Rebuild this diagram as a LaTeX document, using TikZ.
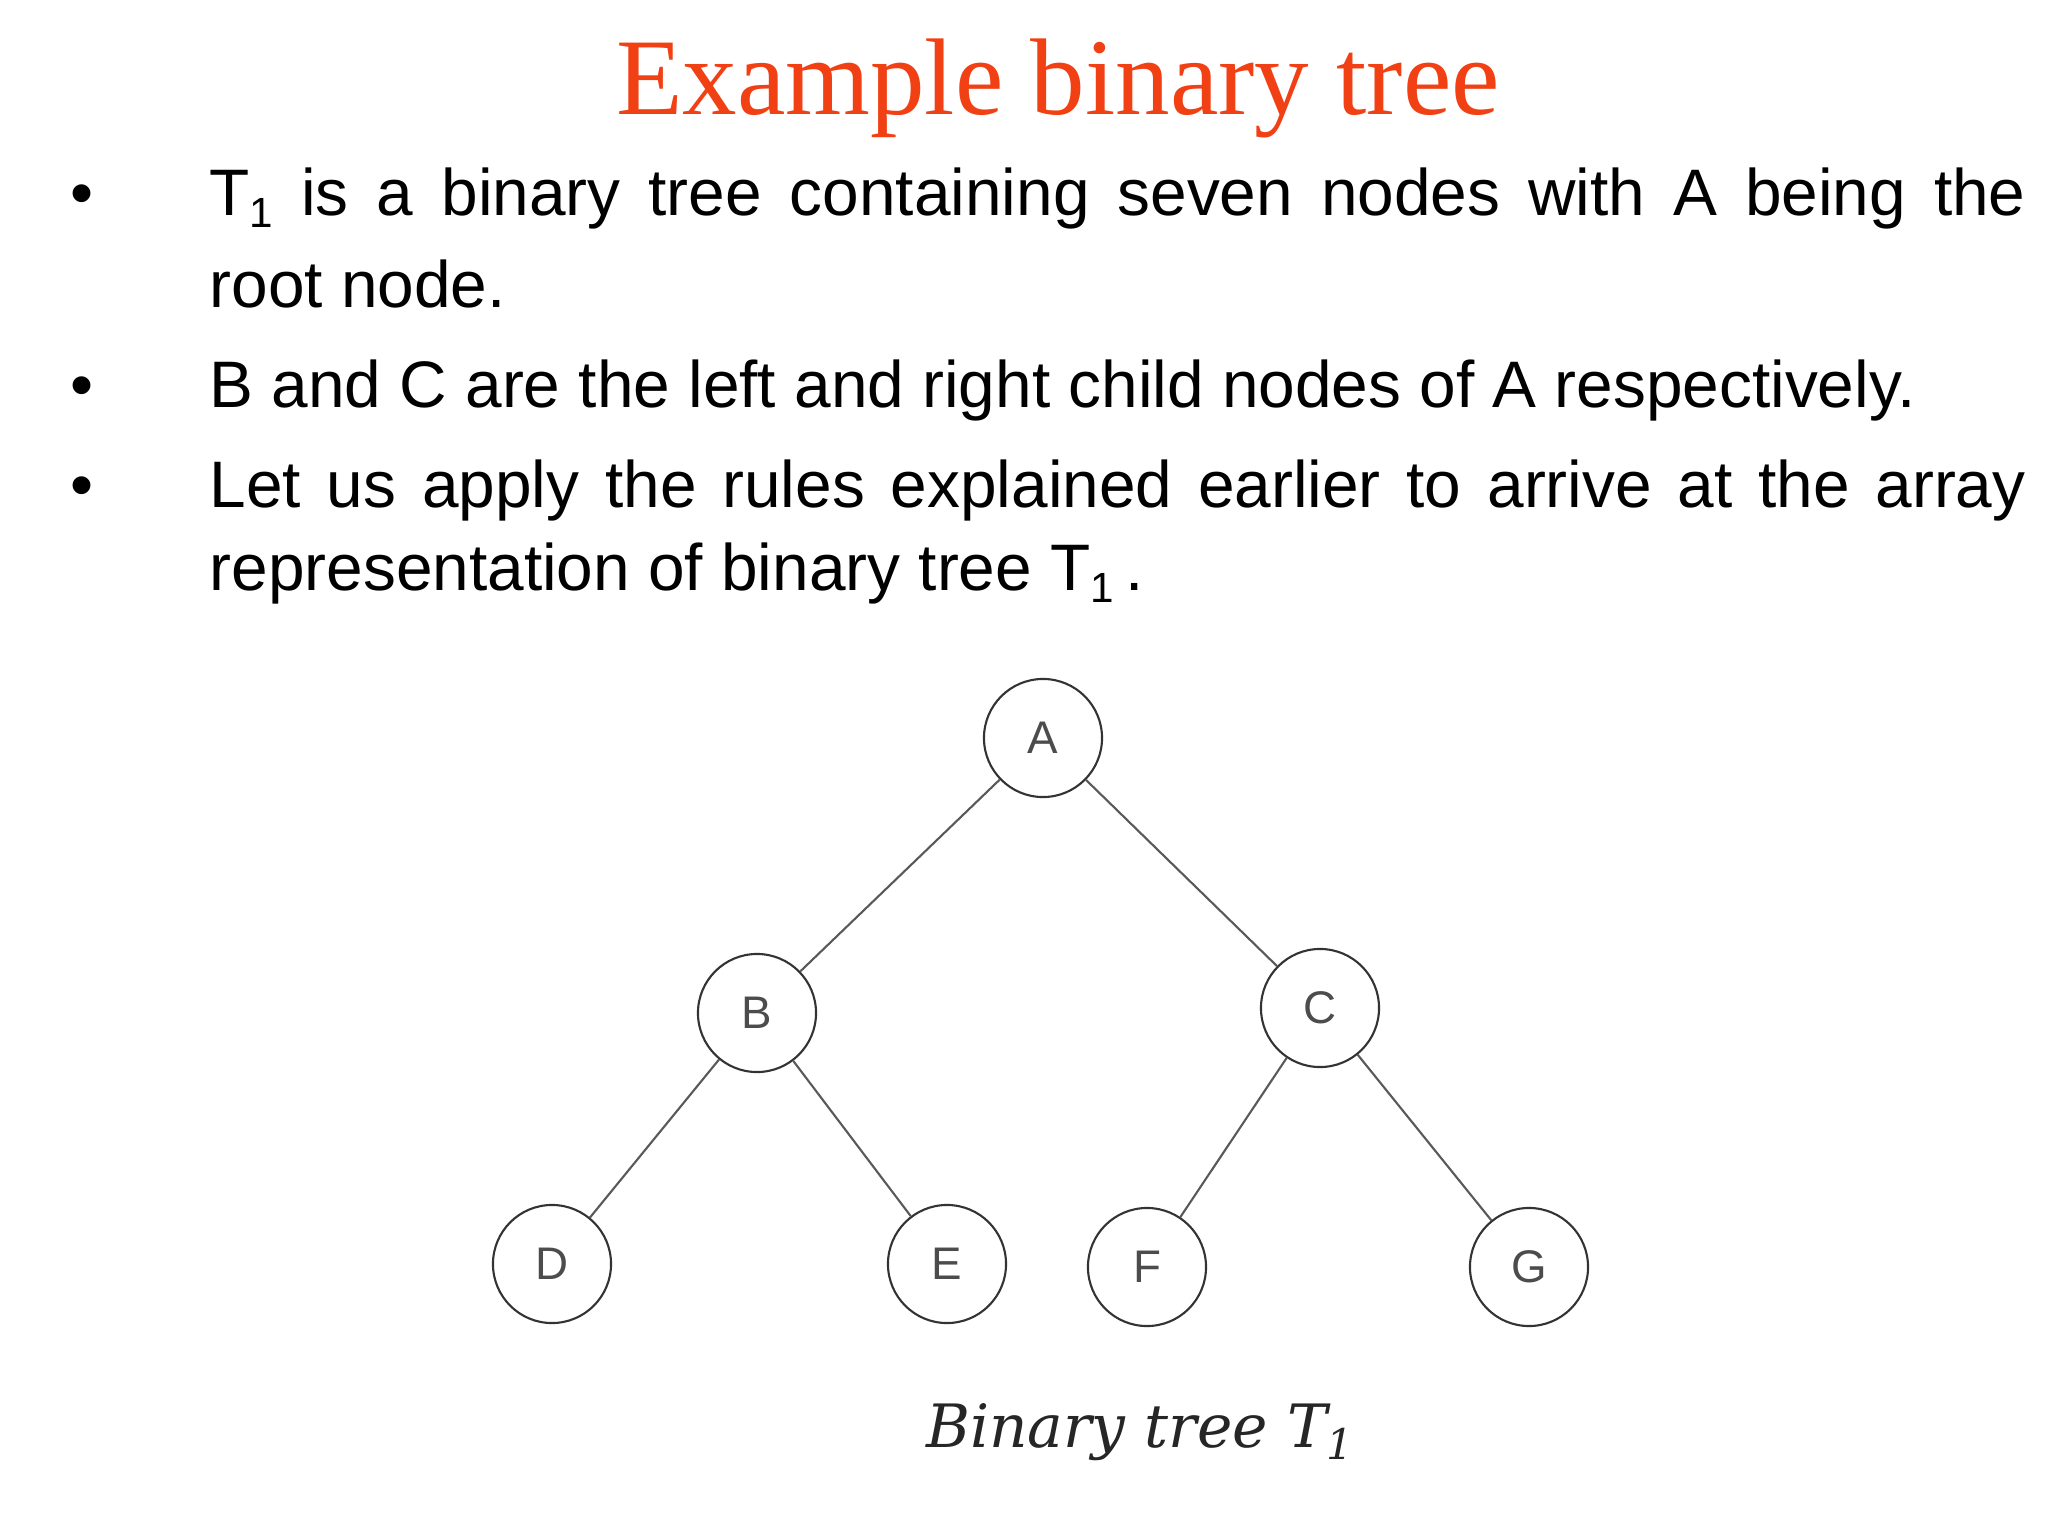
\documentclass[tikz,border=0pt]{standalone}
\usepackage{fontspec}
\setmainfont{Liberation Sans}
\newfontfamily\tms{Liberation Serif}
\newfontfamily\captfont{DejaVu Serif}
\definecolor{titlered}{RGB}{240,64,20}
\newcommand{\subone}{\raisebox{-0.35ex}{\fontsize{12pt}{12pt}\selectfont 1}}
\begin{document}
\begin{tikzpicture}[x=0.01cm,y=-0.01cm,
  tn/.style={circle,draw=black!80,line width=0.6pt,minimum size=1.18cm,inner sep=0pt,font=\fontsize{13pt}{13pt}\selectfont,text=black!70},
  ed/.style={draw=black!65,line width=0.6pt},
  txt/.style={anchor=base west,inner sep=0pt,font=\fontsize{18.7pt}{22pt}\selectfont},
  bul/.style={anchor=base,inner sep=0pt,font=\fontsize{18.7pt}{22pt}\selectfont}]
\useasboundingbox (0,0) rectangle (2048,1536);
\node[inner sep=0pt,text=titlered,font=\tms\fontsize{31pt}{31pt}\selectfont] (title) at (1058,88) {Example binary tree};
\node[bul] (b1) at (82,215) {•};
\node[bul] (b2) at (82,407) {•};
\node[bul] (b3) at (82,507) {•};
\node[txt] (l1) at (209,215) {\makebox[18.15cm][s]{T\subone\ is a binary tree containing seven nodes with A being the}};
\node[txt] (l2) at (209,307) {root node.};
\node[txt] (l3) at (209,407) {B and C are the left and right child nodes of A respectively.};
\node[txt] (l4) at (209,507) {\makebox[18.15cm][s]{Let us apply the rules explained earlier to arrive at the array}};
\node[txt] (l5) at (209,590) {representation of binary tree T\subone\,.};
\node[tn] (A) at (1043,738) {A};
\node[tn] (B) at (757,1013) {B};
\node[tn] (C) at (1320,1008) {C};
\node[tn] (D) at (552,1264) {D};
\node[tn] (E) at (947,1264) {E};
\node[tn] (F) at (1147,1267) {F};
\node[tn] (G) at (1529,1267) {G};
\draw[ed] (A)--(B); \draw[ed] (A)--(C);
\draw[ed] (B)--(D); \draw[ed] (B)--(E);
\draw[ed] (C)--(F); \draw[ed] (C)--(G);
\node[anchor=base,inner sep=0pt,text=black!85,font=\captfont\itshape\fontsize{17pt}{17pt}\selectfont] (capt) at (1140,1447) {Binary tree T\raisebox{-0.4ex}{\fontsize{12pt}{12pt}\selectfont 1}};
\end{tikzpicture}
\end{document}
